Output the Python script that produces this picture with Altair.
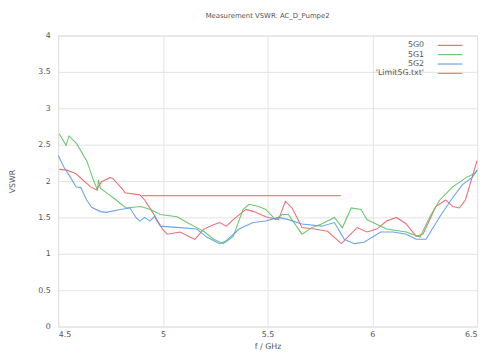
import altair as alt
import pandas as pd

title_text = "Measurement VSWR: AC_D_Pumpe2"
x_title = "f / GHz"
y_title = "VSWR"
series_names = ["5G0", "5G1", "5G2", "'Limit5G.txt'"]
series_colors = ["#e8606a", "#5cc25c", "#5b9be6", "#ec7478"]

f_5g0 = [4.505, 4.542, 4.585, 4.655, 4.683, 4.707, 4.749, 4.763, 4.810, 4.819, 4.890, 4.913,
         4.951, 4.998, 5.021, 5.082, 5.129, 5.153, 5.195, 5.242, 5.270, 5.303, 5.336, 5.397,
         5.434, 5.491, 5.505, 5.552, 5.585, 5.617, 5.664, 5.725, 5.786, 5.852, 5.927, 5.974,
         6.021, 6.068, 6.115, 6.162, 6.209, 6.242, 6.303, 6.350, 6.383, 6.415, 6.444, 6.476, 6.5]
v_5g0 = [2.16, 2.15, 2.10, 1.92, 1.88, 1.99, 2.05, 2.03, 1.88, 1.84, 1.81, 1.74,
         1.57, 1.34, 1.27, 1.30, 1.23, 1.20, 1.34, 1.40, 1.43, 1.38, 1.47, 1.61,
         1.58, 1.51, 1.50, 1.47, 1.72, 1.63, 1.36, 1.34, 1.31, 1.14, 1.36, 1.30,
         1.34, 1.45, 1.50, 1.41, 1.24, 1.27, 1.65, 1.74, 1.65, 1.63, 1.74, 2.05, 2.28]

f_5g1 = [4.505, 4.538, 4.552, 4.589, 4.636, 4.669, 4.683, 4.688, 4.692, 4.702, 4.730, 4.777,
         4.824, 4.894, 4.941, 4.988, 5.068, 5.115, 5.162, 5.195, 5.242, 5.289, 5.336, 5.383,
         5.411, 5.458, 5.491, 5.538, 5.570, 5.599, 5.664, 5.711, 5.758, 5.819, 5.857, 5.899,
         5.946, 5.974, 6.040, 6.068, 6.162, 6.228, 6.275, 6.322, 6.383, 6.444, 6.491, 6.5]
v_5g1 = [2.65, 2.49, 2.62, 2.51, 2.28, 2.01, 1.91, 1.87, 2.02, 1.90, 1.84, 1.74,
         1.63, 1.65, 1.61, 1.54, 1.51, 1.43, 1.36, 1.31, 1.20, 1.14, 1.24, 1.61,
         1.68, 1.65, 1.61, 1.47, 1.54, 1.54, 1.27, 1.36, 1.41, 1.50, 1.36, 1.63,
         1.61, 1.47, 1.38, 1.34, 1.30, 1.23, 1.51, 1.74, 1.92, 2.04, 2.11, 2.15]

f_5g2 = [4.5, 4.528, 4.561, 4.585, 4.608, 4.636, 4.660, 4.702, 4.730, 4.796, 4.843, 4.871,
         4.890, 4.913, 4.937, 4.960, 4.988, 5.082, 5.162, 5.209, 5.270, 5.303, 5.364, 5.430,
         5.491, 5.552, 5.599, 5.664, 5.758, 5.819, 5.866, 5.913, 5.960, 6.040, 6.101, 6.162,
         6.209, 6.256, 6.322, 6.383, 6.430, 6.477, 6.5]
v_5g2 = [2.35, 2.19, 2.04, 1.92, 1.91, 1.74, 1.64, 1.58, 1.57, 1.61, 1.63, 1.50,
         1.45, 1.50, 1.45, 1.51, 1.38, 1.36, 1.34, 1.23, 1.14, 1.18, 1.34, 1.43,
         1.45, 1.50, 1.47, 1.41, 1.38, 1.43, 1.20, 1.14, 1.16, 1.30, 1.30, 1.27,
         1.20, 1.20, 1.51, 1.77, 1.95, 2.05, 2.15]

f_limit = [4.9, 5.85]
v_limit = [1.8, 1.8]

x_ticks = [4.5, 5, 5.5, 6, 6.5]
y_ticks = [0, 0.5, 1, 1.5, 2, 2.5, 3, 3.5, 4]

frames = []
for name, fs, vs in [(series_names[0], f_5g0, v_5g0), (series_names[1], f_5g1, v_5g1),
                     (series_names[2], f_5g2, v_5g2), (series_names[3], f_limit, v_limit)]:
    frames.append(pd.DataFrame({"f": fs, "v": vs, "s": name, "o": range(len(fs))}))
df = pd.concat(frames, ignore_index=True)

font = "DejaVu Sans"
x_enc = alt.X("f:Q", scale=alt.Scale(domain=[4.5, 6.5], nice=False, zero=False),
              axis=alt.Axis(values=x_ticks, title=x_title, format="~g", grid=True,
                            gridColor="#e2e2e2", tickSize=0, labelFontSize=8,
                            labelColor="#555", titleFontSize=8, titleColor="#555",
                            titleFontWeight="normal", titlePadding=4, labelPadding=4,
                            domain=False, labelFont=font, titleFont=font))
y_enc = alt.Y("v:Q", scale=alt.Scale(domain=[0, 4], nice=False),
              axis=alt.Axis(values=y_ticks, title=y_title, format="~g", grid=True,
                            gridColor="#e2e2e2", tickSize=0, labelFontSize=8,
                            labelColor="#555", titleFontSize=8, titleColor="#555",
                            titleFontWeight="normal", titlePadding=22, labelPadding=8,
                            domain=False, labelFont=font, titleFont=font))

lines = alt.Chart(df).mark_line(strokeWidth=1.1, interpolate="linear", opacity=0.9).encode(
    x=x_enc, y=y_enc, order="o:Q",
    color=alt.Color("s:N", scale=alt.Scale(domain=series_names, range=series_colors),
                    legend=None),
    detail="s:N",
)

layers = [lines]
leg_x_text = 372
leg_x0 = 386
leg_x1 = 411
for i, (nm, col) in enumerate(zip(series_names, series_colors)):
    yy = 10 + 9.5 * i
    layers.append(alt.Chart(pd.DataFrame({"t": [nm]})).mark_text(
        align="right", baseline="middle", fontSize=8, color="#555", font=font).encode(
        text="t:N", x=alt.value(leg_x_text), y=alt.value(yy)))
    layers.append(alt.Chart(pd.DataFrame({"t": [nm]})).mark_rule(
        color=col, strokeWidth=1.1).encode(
        x=alt.value(leg_x0), x2=alt.value(leg_x1), y=alt.value(yy)))

chart = alt.layer(*layers).properties(
    width=426, height=296,
    title=alt.TitleParams(title_text, fontSize=7, color="#555", fontWeight="normal",
                          font=font, offset=13, anchor="middle"),
    autosize=alt.AutoSizeParams(type="none"),
    padding={"left": 51, "top": 25, "right": 5, "bottom": 30},
).configure_view(stroke="#888", strokeWidth=1).configure(background="white")

chart.save("out.html", embed_options={"renderer": "svg", "actions": False})
